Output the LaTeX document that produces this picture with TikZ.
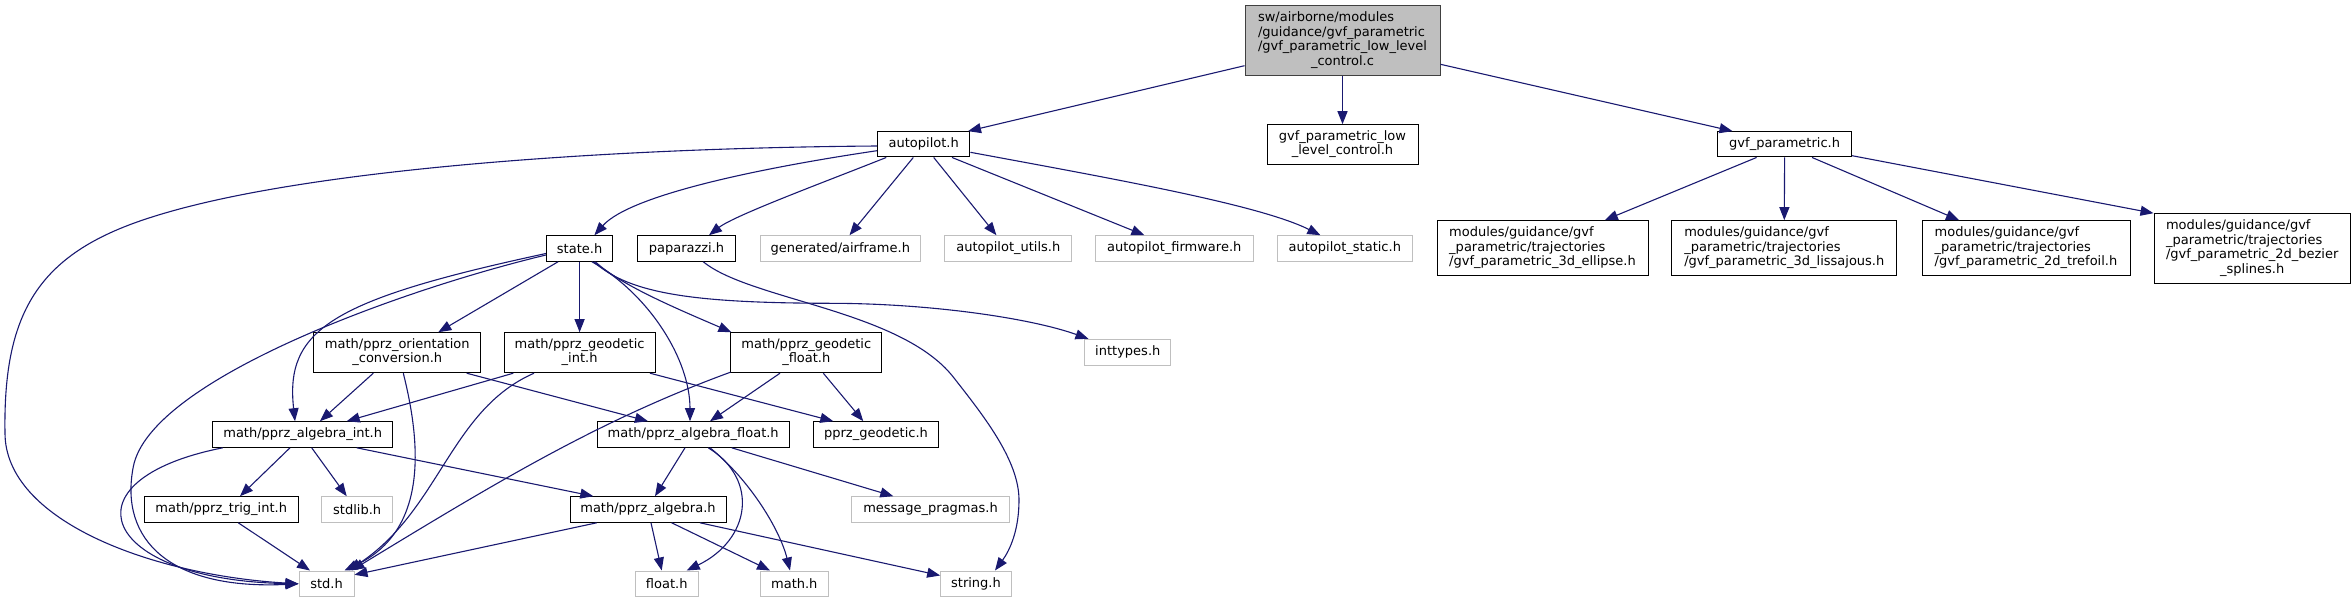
\documentclass[tikz,border=0pt]{standalone}
\usepackage{fontspec}
\setmainfont{DejaVu Sans}
\usetikzlibrary{arrows.meta}
\definecolor{edgecol}{HTML}{191970}
\definecolor{ugrey}{HTML}{BFBFBF}
\definecolor{bgrey}{HTML}{404040}
\newcommand{\mlines}[2]{\begin{tabular}{@{}l@{}}#1\\\multicolumn{1}{@{}c@{}}{#2}\end{tabular}}
\begin{document}
\begin{tikzpicture}[x=1pt,y=1pt,
  nbox/.style={draw=black, line width=1pt, fill=white, inner sep=0pt, font=\fontsize{13}{14.7}\selectfont},
  ubox/.style={nbox, draw=ugrey},
  rootbox/.style={nbox, fill=ugrey, draw=bgrey},
  dep/.style={draw=edgecol, line width=1.1pt, -{Triangle[length=13pt,width=10pt]}}]
\useasboundingbox (0,0) rectangle (2352,-603);

% nodes
\node[rootbox, minimum width=195pt, minimum height=69.5pt] (root) at (1342.5,-40.5) {\mlines{sw/airborne/modules\\/guidance/gvf\_parametric\\/gvf\_parametric\_low\_level}{\_control.c}};
\node[nbox, minimum width=92.5pt, minimum height=25.3pt] (ap) at (923.7,-144.3) {autopilot.h};
\node[nbox, minimum width=151pt, minimum height=40pt] (gvflow) at (1342.5,-144.7) {\mlines{gvf\_parametric\_low}{\_level\_control.h}};
\node[nbox, minimum width=134pt, minimum height=25.3pt] (gvfp) at (1784.6,-144.3) {gvf\_parametric.h};

\node[nbox, minimum width=66.4pt, minimum height=25.6pt] (state) at (579.6,-248.5) {state.h};
\node[nbox, minimum width=97.4pt, minimum height=25.6pt] (papa) at (686.5,-248.5) {paparazzi.h};
\node[ubox, minimum width=160pt, minimum height=25.6pt] (air) at (840.3,-248.5) {generated/airframe.h};
\node[ubox, minimum width=127pt, minimum height=25.6pt] (utils) at (1008.3,-248.5) {autopilot\_utils.h};
\node[ubox, minimum width=157.6pt, minimum height=25.6pt] (firm) at (1174.2,-248.5) {autopilot\_firmware.h};
\node[ubox, minimum width=134.4pt, minimum height=25.6pt] (static) at (1344.8,-248.5) {autopilot\_static.h};
\node[nbox, minimum width=211pt, minimum height=55.3pt] (ell) at (1542.5,-248.3) {\mlines{modules/guidance/gvf\\\_parametric/trajectories}{/gvf\_parametric\_3d\_ellipse.h}};
\node[nbox, minimum width=225pt, minimum height=55.3pt] (liss) at (1784.3,-248.3) {\mlines{modules/guidance/gvf\\\_parametric/trajectories}{/gvf\_parametric\_3d\_lissajous.h}};
\node[nbox, minimum width=208pt, minimum height=55.3pt] (tref) at (2026,-248.3) {\mlines{modules/guidance/gvf\\\_parametric/trajectories}{/gvf\_parametric\_2d\_trefoil.h}};
\node[nbox, minimum width=196.4pt, minimum height=69.6pt] (bez) at (2252.2,-248.5) {\mlines{modules/guidance/gvf\\\_parametric/trajectories\\/gvf\_parametric\_2d\_bezier}{\_splines.h}};

\node[nbox, minimum width=166.7pt, minimum height=40pt] (orient) at (397.3,-352.7) {\mlines{math/pprz\_orientation}{\_conversion.h}};
\node[nbox, minimum width=151pt, minimum height=40pt] (geoint) at (579.6,-352.7) {\mlines{math/pprz\_geodetic}{\_int.h}};
\node[nbox, minimum width=150.7pt, minimum height=40pt] (geofloat) at (806.3,-352.7) {\mlines{math/pprz\_geodetic}{\_float.h}};
\node[ubox, minimum width=86.3pt, minimum height=26pt] (intt) at (1127.8,-352.3) {inttypes.h};

\node[nbox, minimum width=180pt, minimum height=25.6pt] (algint) at (302.7,-434.5) {math/pprz\_algebra\_int.h};
\node[nbox, minimum width=192.3pt, minimum height=25.6pt] (algfloat) at (693.2,-434.5) {math/pprz\_algebra\_float.h};
\node[nbox, minimum width=125.3pt, minimum height=25.6pt] (geod) at (876,-434.5) {pprz\_geodetic.h};

\node[nbox, minimum width=153.7pt, minimum height=25.6pt] (trig) at (221.2,-509.5) {math/pprz\_trig\_int.h};
\node[ubox, minimum width=71pt, minimum height=25.6pt] (stdlib) at (357.2,-509.5) {stdlib.h};
\node[nbox, minimum width=156pt, minimum height=25.6pt] (alg) at (648,-509.5) {math/pprz\_algebra.h};
\node[ubox, minimum width=157.7pt, minimum height=25.6pt] (prag) at (930.5,-509.5) {message\_pragmas.h};

\node[ubox, minimum width=55pt, minimum height=25.6pt] (std) at (326.5,-583.8) {std.h};
\node[ubox, minimum width=62.7pt, minimum height=25.6pt] (float) at (666.7,-583.8) {float.h};
\node[ubox, minimum width=68pt, minimum height=25.6pt] (math) at (794.3,-583.8) {math.h};
\node[ubox, minimum width=70.7pt, minimum height=25.6pt] (string) at (976,-583.8) {string.h};

% root edges
\draw[dep] ([yshift=-25.2pt]root.west) -- ([xshift=44.3pt]ap.north);
\draw[dep] (root.south) -- (gvflow.north);
\draw[dep] ([yshift=-23.8pt]root.east) -- ([xshift=-52.1pt]gvfp.north);

% gvf_parametric edges
\draw[dep] ([xshift=-28pt]gvfp.south) -- ([xshift=62.3pt]ell.north);
\draw[dep] (gvfp.south) -- (liss.north);
\draw[dep] ([xshift=27.4pt]gvfp.south) -- ([xshift=-67pt]tref.north);
\draw[dep] ([yshift=-11.4pt]gvfp.east) -- (bez.north west);

% autopilot edges
\draw[dep] ([xshift=-10.4pt]ap.south) -- ([xshift=9.2pt]air.north);
\draw[dep] ([xshift=10pt]ap.south) -- ([xshift=-11.9pt]utils.north);
\draw[dep] ([xshift=28.3pt]ap.south) -- ([xshift=-29.8pt]firm.north);
\draw[dep] ([yshift=-8pt]ap.east) .. controls (1120,-180) and (1260,-205) .. ([xshift=-24.4pt]static.north);
\draw[dep] ([yshift=-6.4pt]ap.west) .. controls (760,-168) and (630,-195) .. ([xshift=14.8pt]state.north);
\draw[dep] ([xshift=9.3pt]ap.south west) .. controls (830,-180) and (735,-215) .. ([xshift=22.5pt]papa.north);
\draw[dep] ([yshift=-1.7pt]ap.west) .. controls (600,-148) and (300,-170) .. (153,-216.7)
   .. controls (40,-252) and (3,-310) .. (5,-433)
   .. controls (5,-520) and (150,-575) .. (std.west);

% state edges
\draw[dep] ([yshift=-6.5pt]state.west) .. controls (400,-290) and (150,-380) .. (133.3,-466.7)
   .. controls (119,-540) and (170,-590) .. (std.west);
\draw[dep] ([yshift=-5pt]state.west) .. controls (330,-300) and (285,-330) .. ([xshift=-7.7pt]algint.north);
\draw[dep] ([xshift=-21.6pt]state.south) -- ([xshift=41pt]orient.north);
\draw[dep] (state.south) -- (geoint.north);
\draw[dep] ([xshift=12.4pt]state.south) .. controls (650,-295) and (690,-360) .. ([xshift=-3.2pt]algfloat.north);
\draw[dep] ([xshift=15.8pt]state.south) .. controls (620,-285) and (680,-310) .. ([xshift=1pt]geofloat.north west);
\draw[dep] ([xshift=14.4pt]state.south) .. controls (630,-295) and (700,-303) .. (832,-303.3)
   .. controls (930,-303.5) and (1030,-318) .. ([xshift=4.3pt]intt.north west);

% paparazzi edge
\draw[dep] ([xshift=16.8pt]papa.south) .. controls (750,-300) and (900,-310) .. (953,-376.7)
   .. controls (983,-415) and (1019,-460) .. (1019,-500)
   .. controls (1019,-530) and (1010,-550) .. ([xshift=19pt]string.north);

% orientation conversion edges
\draw[dep] ([xshift=-24pt]orient.south) -- ([xshift=17.3pt]algint.north);
\draw[dep] ([xshift=6pt]orient.south) .. controls (420,-440) and (430,-530) .. ([xshift=-10pt]std.north east);
\draw[dep] ([xshift=69.4pt]orient.south) -- ([xshift=-45.2pt]algfloat.north);

% geodetic int edges
\draw[dep] ([xshift=-66.3pt]geoint.south) -- ([xshift=44pt]algint.north);
\draw[dep] ([xshift=-45.6pt]geoint.south) .. controls (450,-410) and (440,-510) .. ([xshift=-6pt]std.north east);
\draw[dep] ([xshift=70.4pt]geoint.south) -- ([xshift=-42.7pt]geod.north);

% geodetic float edges
\draw[dep] ([xshift=-26.3pt]geofloat.south) -- ([xshift=16.8pt]algfloat.north);
\draw[dep] ([xshift=17pt]geofloat.south) -- ([xshift=-12.7pt]geod.north);
\draw[dep] ([yshift=1pt]geofloat.south west) .. controls (600,-420) and (500,-480) .. ([xshift=-3pt]std.north east);

% algebra int edges
\draw[dep] ([xshift=10.6pt]algint.south west) .. controls (60,-480) and (100,-580) .. (std.west);
\draw[dep] ([xshift=-12.7pt]algint.south) -- ([xshift=18.8pt]trig.north);
\draw[dep] ([xshift=9pt]algint.south) -- ([xshift=-10.5pt]stdlib.north);
\draw[dep] ([xshift=54pt]algint.south) -- ([xshift=-54.7pt]alg.north);

% trig edge
\draw[dep] ([xshift=17.1pt]trig.south) -- ([xshift=-16.5pt]std.north);

% algebra float edges
\draw[dep] ([xshift=-8.2pt]algfloat.south) -- ([xshift=7pt]alg.north);
\draw[dep] ([xshift=15.1pt]algfloat.south) .. controls (760,-480) and (750,-540) .. ([xshift=20pt]float.north);
\draw[dep] ([xshift=16.8pt]algfloat.south) .. controls (750,-480) and (780,-530) .. ([xshift=-4.3pt]math.north);
\draw[dep] ([xshift=38.5pt]algfloat.south) -- ([xshift=-37.2pt]prag.north);

% algebra edges
\draw[dep] ([xshift=-51.3pt]alg.south) -- ([yshift=9pt]std.east);
\draw[dep] ([xshift=3pt]alg.south) -- ([xshift=-5pt]float.north);
\draw[dep] ([xshift=23.7pt]alg.south) -- ([xshift=-24.3pt]math.north);
\draw[dep] ([xshift=52pt]alg.south) -- ([yshift=8.3pt]string.west);
\end{tikzpicture}
\end{document}
